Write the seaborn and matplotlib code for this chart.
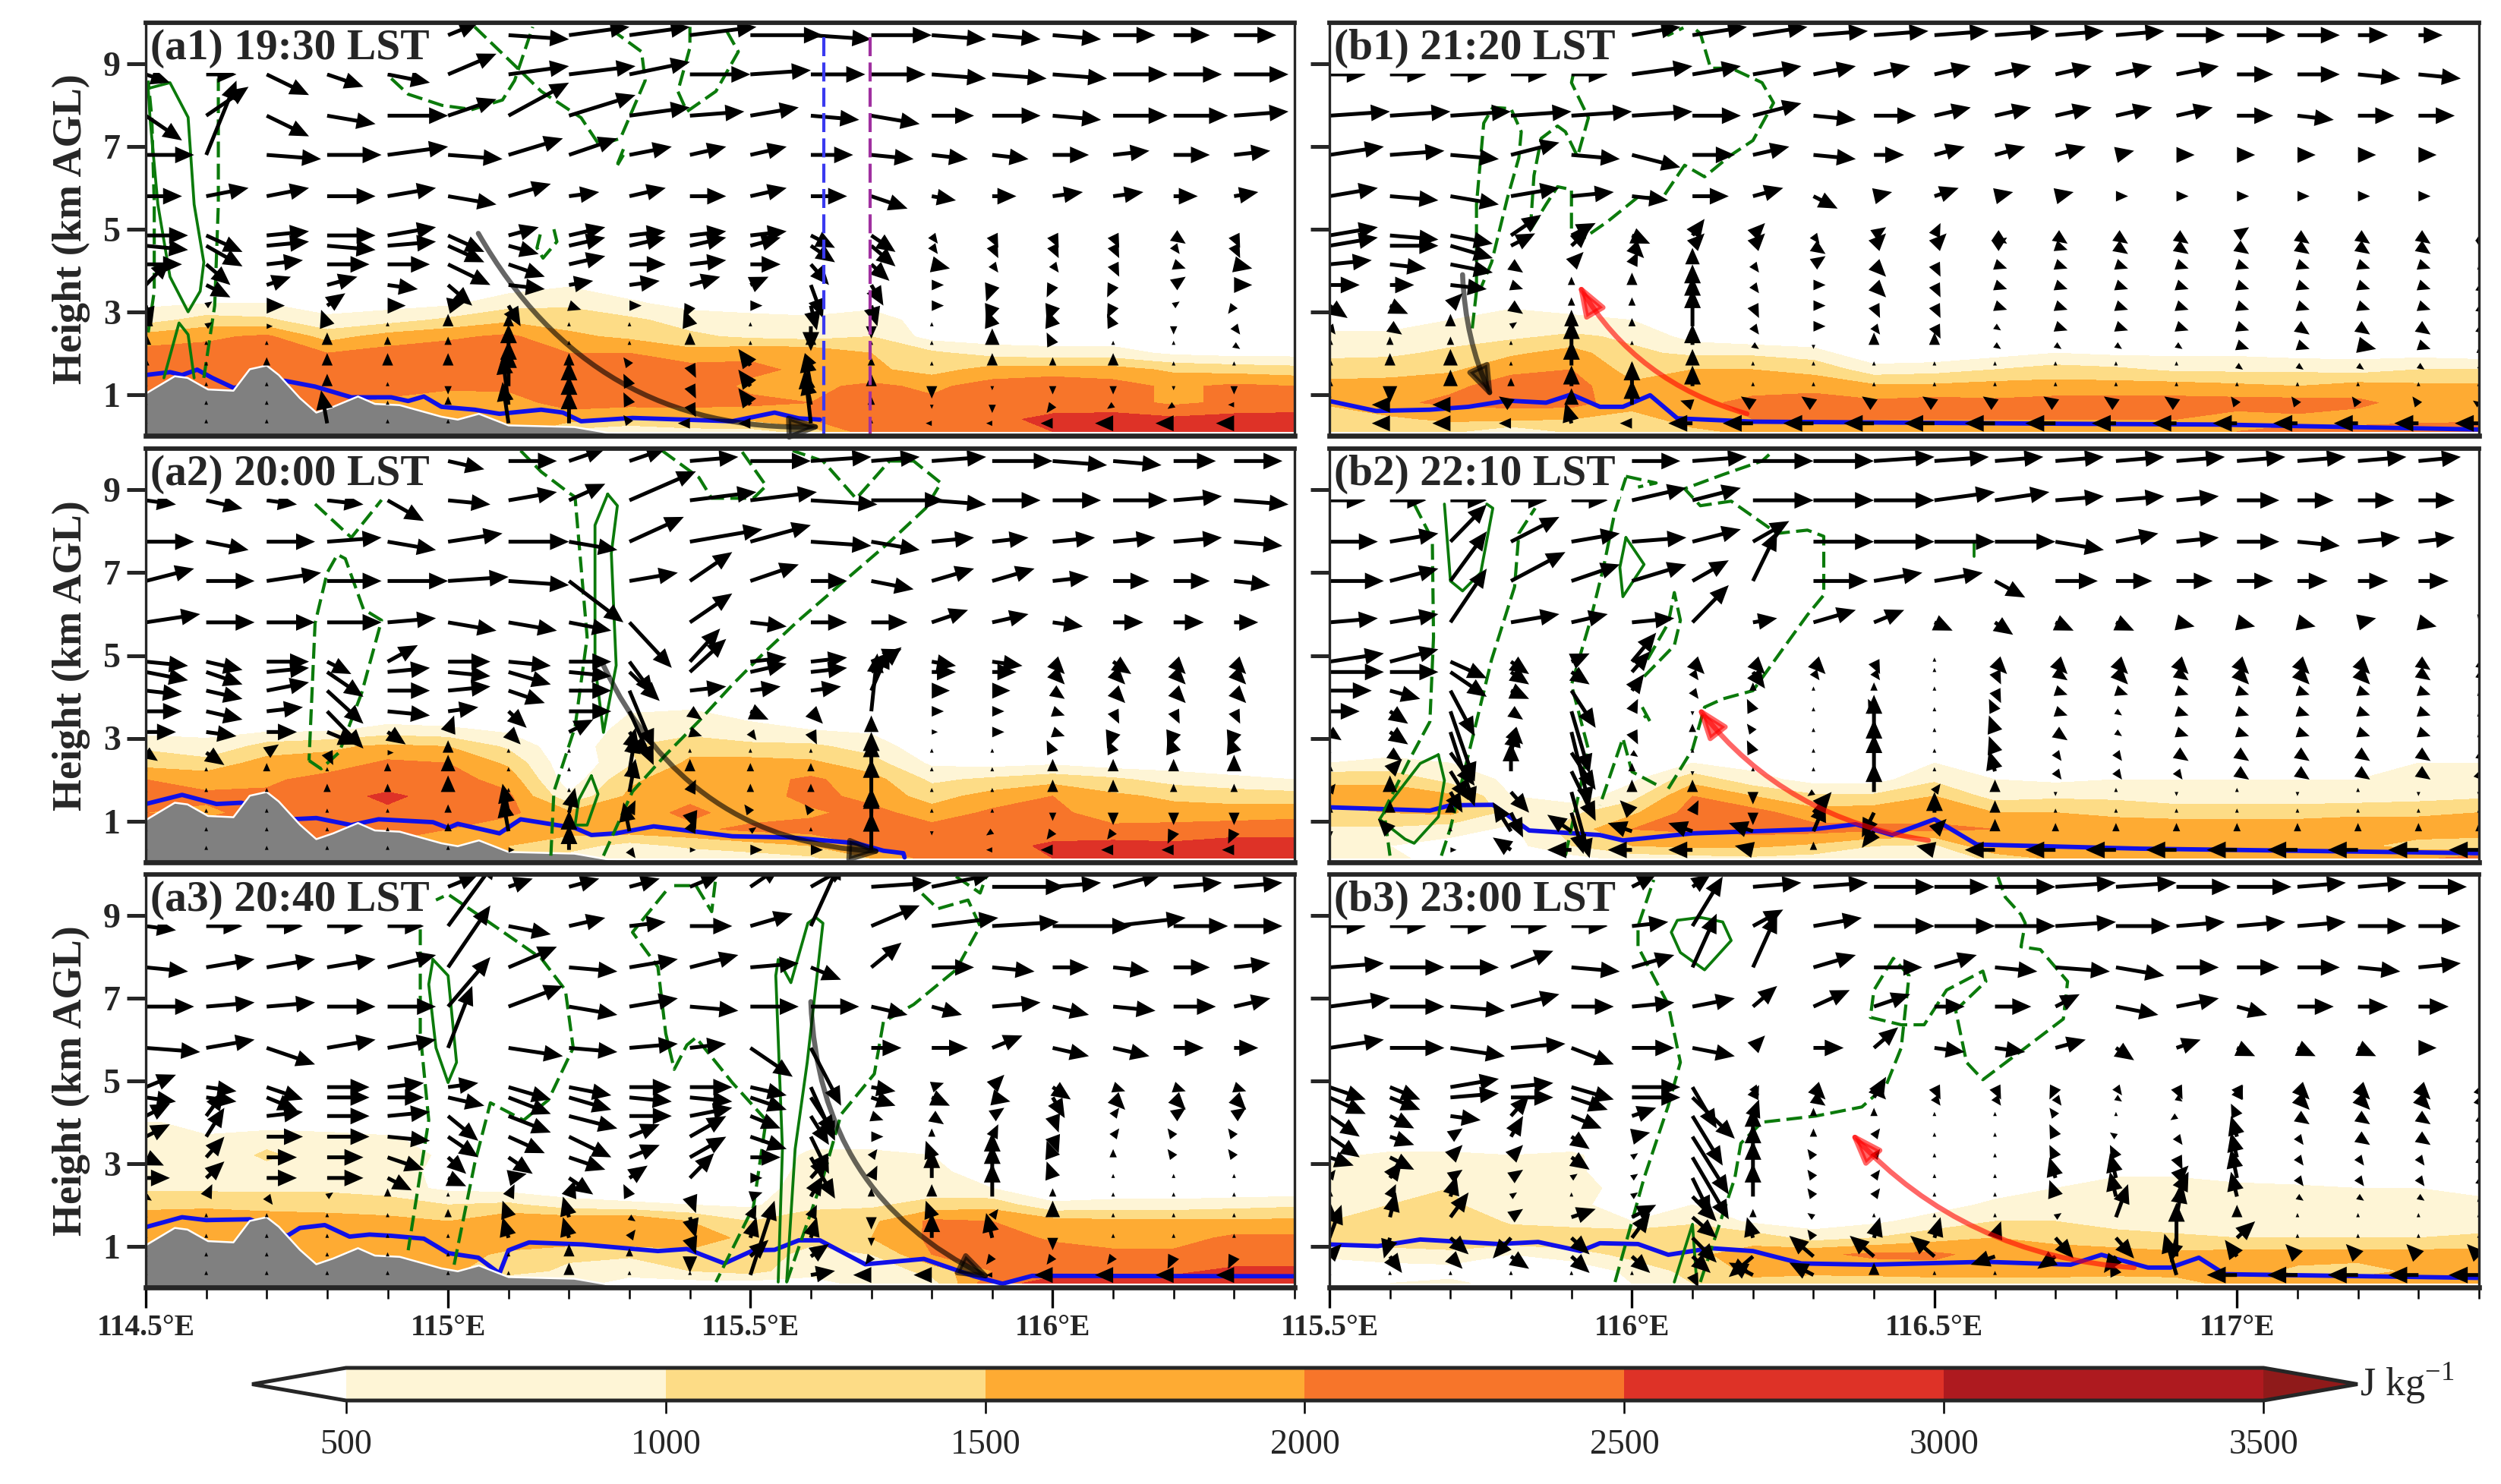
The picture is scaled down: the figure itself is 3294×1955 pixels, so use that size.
import numpy as np
import matplotlib
matplotlib.use("Agg")
import matplotlib.pyplot as plt
from matplotlib.colors import BoundaryNorm, ListedColormap
import seaborn as sns

sns.set_theme(style="ticks")
plt.rcParams['font.family'] = ['Liberation Serif', 'DejaVu Serif']
plt.rcParams['mathtext.fontset'] = 'custom'
plt.rcParams['mathtext.rm'] = 'Liberation Serif'

# --- shared grids ---
cape_hgt = [0.1, 0.4, 0.8, 1.2, 1.6, 2.0, 2.4, 2.8, 3.2, 3.6, 4.0]
wind_hgt = [9.7, 8.75, 7.75, 6.8, 5.8, 4.85, 4.6, 4.15, 3.65, 3.15, 2.65, 2.2, 1.7, 1.2, 0.75, 0.3]
cape_levels = [500, 1000, 1500, 2000, 2500, 3000, 3500]
cape_colors = ['#FEF5D6', '#FDDC86', '#FEAB33', '#F7752A', '#DE3227', '#AE1A1F']

terrain_lon = [114.5, 114.548, 114.569, 114.603, 114.645, 114.672, 114.70, 114.72, 114.755, 114.782, 114.81,
               114.851, 114.879, 114.92, 114.989, 115.016, 115.051, 115.1, 115.209, 115.264, 115.36]
terrain_hgt = [1.02, 1.44, 1.40, 1.12, 1.09, 1.61, 1.70, 1.47, 0.91, 0.56, 0.70,
               0.95, 0.77, 0.74, 0.46, 0.39, 0.53, 0.25, 0.21, 0.07, 0.01]

# --- CAPE, in 100 J/kg, rows follow cape_hgt ---
a1_cape = [
    [18, 18, 18, 18, 18, 18, 18, 8, 6, 8, 8, 12, 24, 23, 24, 25, 28, 27, 27, 27],
    [19, 19, 19, 19, 19, 19, 17, 17, 14, 15, 16, 20, 24, 23, 24, 26, 27, 26, 27, 27],
    [21, 21, 21, 21, 19, 17, 18, 22, 22, 22, 21, 20, 22, 21, 22, 23, 22, 19, 21, 22],
    [21, 21, 21, 21, 22, 21, 21, 22, 22, 23, 19, 19, 21, 19, 22, 24, 22, 19, 21, 20],
    [21, 21, 21, 21, 22, 22, 22, 23, 22, 22, 21, 19, 16, 13, 17, 17, 17, 14, 13, 12],
    [22, 22, 23, 20, 22, 23, 22, 20, 20, 17, 19, 19, 15, 11, 8, 7, 7, 4, 3, 3],
    [17, 19, 21, 13, 17, 19, 21, 16, 14, 11, 9, 8, 10, 3, 2, 2, 2, 2, 2, 2],
    [8, 12, 11, 6, 8, 11, 14, 13, 11, 8, 7, 6, 8, 2, 1, 1, 1, 1, 1, 1],
    [4, 5, 5, 3, 3, 4, 8, 9, 6, 3, 2, 2, 3, 1, 1, 1, 1, 1, 1, 1],
    [1, 1, 1, 1, 1, 1, 3, 5, 2, 1, 1, 1, 1, 1, 1, 1, 1, 1, 1, 1],
    [1, 1, 1, 1, 1, 1, 1, 1, 1, 1, 1, 1, 1, 1, 1, 1, 1, 1, 1, 1],
]
a2_cape = [
    [16, 16, 16, 16, 16, 16, 16, 8, 6, 6, 7, 9, 15, 22, 22, 25, 27, 27, 27, 27],
    [19, 19, 19, 19, 19, 19, 15, 12, 8, 11, 13, 15, 20, 22, 23, 26, 27, 26, 27, 27],
    [22, 22, 22, 22, 22, 20, 17, 17, 18, 19, 21, 22, 23, 22, 22, 22, 21, 22, 23, 23],
    [20, 19, 22, 22, 24, 23, 21, 16, 18, 21, 18, 19, 22, 17, 21, 21, 18, 17, 17, 18],
    [21, 21, 21, 23, 26, 23, 21, 6, 16, 19, 17, 22, 18, 13, 17, 20, 16, 14, 13, 12],
    [20, 18, 19, 22, 22, 22, 18, 2, 14, 18, 18, 21, 17, 9, 11, 13, 11, 8, 6, 5],
    [13, 12, 17, 17, 21, 20, 14, 1, 9, 16, 17, 16, 12, 4, 3, 4, 2, 2, 2, 2],
    [9, 6, 12, 14, 16, 15, 9, 1, 10, 13, 11, 11, 8, 1, 1, 1, 1, 1, 1, 1],
    [3, 4, 4, 4, 7, 6, 4, 1, 7, 8, 7, 5, 4, 1, 1, 1, 1, 1, 1, 1],
    [1, 1, 1, 1, 1, 1, 1, 1, 5, 6, 3, 1, 1, 1, 1, 1, 1, 1, 1, 1],
    [1, 1, 1, 1, 1, 1, 1, 1, 1, 1, 1, 1, 1, 1, 1, 1, 1, 1, 1, 1],
]
a3_cape = [
    [10, 10, 10, 10, 10, 10, 6, 6, 4, 3, 3, 4, 6, 8, 24, 26, 27, 27, 27, 27],
    [16, 16, 16, 16, 16, 16, 12, 9, 6, 10, 12, 6, 6, 12, 20, 24, 22, 24, 26, 26],
    [17, 17, 17, 17, 17, 17, 14, 11, 11, 14, 15, 7, 10, 20, 25, 23, 21, 21, 22, 22],
    [18, 18, 18, 18, 18, 18, 18, 19, 19, 17, 14, 13, 15, 21, 23, 19, 18, 18, 21, 21],
    [17, 18, 18, 17, 16, 15, 19, 19, 20, 15, 10, 12, 14, 21, 20, 17, 16, 16, 16, 16],
    [14, 14, 13, 13, 13, 10, 11, 7, 6, 5, 4, 9, 9, 12, 13, 6, 7, 7, 8, 9],
    [9, 9, 9, 9, 7, 4, 3, 2, 1, 1, 2, 8, 7, 7, 5, 1, 1, 1, 1, 1],
    [7, 5, 8, 9, 9, 2, 1, 1, 1, 1, 1, 7, 6, 6, 3, 1, 1, 1, 1, 1],
    [7, 6, 11, 7, 10, 3, 1, 1, 1, 1, 1, 6, 7, 5, 1, 1, 1, 1, 1, 1],
    [8, 6, 8, 7, 6, 2, 1, 1, 1, 1, 1, 3, 1, 1, 1, 1, 1, 1, 1, 1],
    [6, 2, 2, 2, 1, 1, 1, 1, 1, 1, 1, 1, 1, 1, 1, 1, 1, 1, 1, 1],
]
b1_cape = [
    [11, 12, 11, 6, 11, 13, 14, 16, 17, 17, 17, 18, 17, 17, 19, 20, 21, 22, 22, 23],
    [11, 14, 16, 16, 15, 13, 17, 20, 21, 20, 20, 20, 20, 20, 20, 18, 19, 18, 19, 19],
    [16, 19, 21, 22, 22, 17, 18, 22, 24, 21, 22, 21, 22, 22, 22, 22, 22, 21, 18, 18],
    [17, 17, 19, 22, 22, 16, 17, 17, 17, 16, 16, 17, 17, 17, 17, 16, 15, 17, 16, 16],
    [12, 13, 14, 19, 20, 13, 15, 15, 14, 7, 8, 10, 12, 11, 9, 9, 9, 8, 10, 10],
    [9, 9, 11, 14, 17, 11, 9, 9, 7, 1, 1, 3, 5, 4, 4, 4, 3, 3, 3, 2],
    [6, 6, 8, 9, 11, 9, 3, 1, 1, 1, 1, 1, 1, 1, 1, 1, 1, 1, 1, 1],
    [3, 3, 5, 7, 6, 5, 3, 1, 1, 1, 1, 1, 1, 1, 1, 1, 1, 1, 1, 1],
    [1, 1, 3, 4, 3, 3, 2, 1, 1, 1, 1, 1, 1, 1, 1, 1, 1, 1, 1, 1],
    [1, 1, 1, 1, 1, 1, 1, 1, 1, 1, 1, 1, 1, 1, 1, 1, 1, 1, 1, 1],
    [1, 1, 1, 1, 1, 1, 1, 1, 1, 1, 1, 1, 1, 1, 1, 1, 1, 1, 1, 1],
]
b2_cape = [
    [6, 6, 3, 3, 3, 7, 8, 9, 8, 6, 5, 12, 16, 17, 17, 18, 18, 18, 19, 22],
    [5, 5, 3, 3, 10, 15, 16, 16, 14, 10, 9, 20, 20, 18, 17, 18, 18, 16, 13, 12],
    [9, 9, 7, 4, 12, 20, 21, 22, 22, 21, 21, 20, 20, 20, 18, 18, 18, 18, 18, 18],
    [14, 15, 16, 8, 9, 14, 22, 22, 17, 18, 18, 15, 15, 13, 13, 13, 13, 14, 14, 15],
    [17, 17, 16, 5, 2, 8, 20, 15, 11, 11, 15, 8, 9, 9, 7, 7, 7, 7, 8, 9],
    [14, 14, 8, 4, 1, 4, 13, 7, 3, 3, 9, 5, 4, 5, 5, 5, 5, 5, 6, 7],
    [5, 6, 5, 5, 1, 1, 5, 3, 1, 1, 5, 1, 1, 1, 1, 1, 1, 1, 5, 5],
    [5, 3, 1, 5, 1, 1, 1, 1, 1, 1, 1, 1, 1, 1, 1, 1, 1, 1, 1, 1],
    [5, 1, 1, 4, 1, 1, 1, 1, 1, 1, 1, 1, 1, 1, 1, 1, 1, 1, 1, 1],
    [1, 1, 1, 1, 1, 1, 1, 1, 1, 1, 1, 1, 1, 1, 1, 1, 1, 1, 1, 1],
    [1, 1, 1, 1, 1, 1, 1, 1, 1, 1, 1, 1, 1, 1, 1, 1, 1, 1, 1, 1],
]
b3_cape = [
    [5, 5, 6, 3, 3, 5, 10, 14, 11, 12, 12, 12, 12, 12, 14, 16, 17, 17, 17, 18],
    [2, 3, 3, 2, 2, 6, 12, 16, 17, 17, 18, 18, 18, 17, 16, 17, 14, 13, 16, 16],
    [6, 7, 8, 5, 7, 12, 14, 17, 19, 21, 21, 18, 18, 17, 16, 17, 17, 17, 17, 17],
    [13, 14, 15, 14, 15, 15, 14, 13, 8, 10, 13, 15, 13, 12, 11, 10, 10, 10, 10, 11],
    [10, 12, 15, 9, 7, 5, 9, 4, 2, 4, 7, 10, 10, 8, 7, 7, 7, 7, 7, 7],
    [9, 10, 11, 6, 6, 3, 5, 2, 1, 1, 3, 6, 9, 6, 6, 6, 6, 6, 6, 6],
    [7, 10, 10, 6, 6, 4, 1, 1, 1, 1, 1, 3, 5, 7, 7, 6, 6, 5, 5, 4],
    [6, 7, 7, 6, 6, 2, 1, 1, 1, 1, 1, 1, 3, 4, 4, 3, 1, 1, 1, 1],
    [4, 6, 6, 5, 6, 1, 1, 1, 1, 1, 1, 1, 1, 1, 1, 1, 1, 1, 1, 1],
    [1, 1, 1, 1, 1, 1, 1, 1, 1, 1, 1, 1, 1, 1, 1, 1, 1, 1, 1, 1],
    [1, 1, 1, 1, 1, 1, 1, 1, 1, 1, 1, 1, 1, 1, 1, 1, 1, 1, 1, 1],
]

# --- wind: u in 0.01 deg of arrow run, w in 0.1 km of arrow rise, rows follow wind_hgt ---
a1_u = [
    [6, 6, 6, 6, 6, 5, 10, 10, 10, 11, 12, 10, 10, 9, 8, 8, 7, 6, 7],
    [4, 5, 7, 6, 7, 8, 10, 11, 10, 10, 10, 9, 9, 9, 9, 9, 9, 8, 9],
    [6, 7, 7, 8, 10, 8, 10, 11, 10, 9, 8, 8, 8, 7, 8, 8, 9, 9, 9],
    [8, 5, 9, 9, 10, 9, 9, 8, 7, 6, 6, 7, 7, 6, 6, 6, 6, 6, 6],
    [6, 7, 7, 8, 8, 8, 7, 5, 6, 6, 6, 6, 6, 4, 4, 5, 5, 4, 4],
    [7, 6, 7, 8, 8, 6, 5, 6, 6, 6, 6, 4, 4, 1, 1, 1, 1, 2, 1],
    [7, 6, 7, 8, 8, 6, 5, 6, 6, 6, 5, 4, 4, 1, 1, 1, 1, 1, 1],
    [6, 4, 6, 7, 7, 7, 6, 6, 6, 6, 5, 3, 3, 3, 1, 1, 1, 2, 3],
    [4, 4, 4, 5, 5, 4, 6, 4, 5, 5, 3, 2, 2, 2, -1, -1, -1, 2, 3],
    [1, 1, 3, 3, 3, 3, 2, 2, 2, -1, 2, 1, 1, 2, -1, -1, -1, 1, -1],
    [0, 1, 1, -1, 0, 0, 0, 0, 0, -1, 0, 0, 0, 0, -1, -1, -1, 0, 1],
    [0, 0, 0, 0, 0, 0, 0, 0, 0, 0, 0, 0, 0, 0, 0, -1, 0, 0, 1],
    [0, 0, 0, 0, 0, 0, 0, 0, -1, 1, -2, -1, 0, 0, 0, 0, 0, 0, 0],
    [0, 0, 0, 0, 0, 0, 0, 0, -1, 1, -2, -1, 0, 0, 0, 0, 0, 0, 0],
    [0, 0, 0, 0, 0, 0, -1, 0, -1, 1, -2, -1, 0, 0, 0, -1, -1, -1, -1],
    [0, 0, 0, -1, 0, 0, -1, 0, -1, -2, -2, -1, 0, -1, -1, -2, -3, -3, -3],
]
a1_w = [
    [0, 0, 0, 0, 0, 3, -1, 2, 2, 2, 0, -1, 0, -1, -1, -1, 0, 0, 0],
    [-2, 0, -5, -3, -2, 5, 2, 2, 3, 0, 1, 0, 0, -1, -1, -1, 0, 0, 0],
    [-6, 7, -5, -2, 0, 4, 8, 5, 2, 1, 2, -1, -2, 0, 0, -1, 0, 0, 1],
    [0, 18, -1, 0, 2, -1, 4, 4, 2, 2, 2, 0, -1, -1, -1, 0, 1, 0, 1],
    [0, 2, 2, 0, 2, -2, 3, 1, 2, 0, 2, 0, -3, -1, 0, 1, 1, 0, 1],
    [0, -4, 1, 0, 2, -4, 2, 2, 1, 1, 1, -3, -4, -2, -3, -3, -3, -2, -3],
    [-1, -5, 1, -1, 1, -4, -2, 2, 2, 2, 2, -4, -5, -2, -3, -3, -3, -2, -3],
    [0, -5, 1, 0, 0, -5, -3, 2, 0, 1, 0, -5, -4, -1, -2, -2, -3, -1, -1],
    [6, -3, 2, 2, -1, -5, -1, 1, 1, 2, 2, -8, -5, 0, -4, -3, -3, 2, 0],
    [-5, 1, 0, 3, 0, 1, -5, -1, 0, -3, 0, -6, -5, 0, -4, -4, -3, 1, -2],
    [4, 1, 0, 4, 1, 3, 3, 1, 1, 4, 1, -6, -3, 1, 4, 4, 3, -2, -2],
    [3, 1, 1, 3, 2, 2, 5, 1, 1, 3, 1, 3, 1, 1, 4, 3, 1, 1, -1],
    [2, 1, 2, 3, 3, 3, 6, 3, 2, -3, 4, 3, 2, 1, 3, 2, 3, 1, 1],
    [1, 1, 1, 3, 1, -2, 9, 6, 3, -3, 4, 8, 3, -3, -1, -2, -2, -1, -2],
    [1, 1, 1, 1, 1, 2, 12, 7, 3, -3, 4, 7, 2, -1, -2, -2, -1, -1, 0],
    [1, 1, 1, 8, 1, 1, 10, 8, 2, 0, 0, 13, 1, 0, 0, 0, 0, 0, 0],
]
a2_u = [
    [6, 6, 6, 6, 6, 6, 8, 6, 6, 8, 10, 10, 8, 9, 10, 9, 8, 7, 8],
    [5, 6, 5, 6, 6, 7, 8, 6, 11, 11, 11, 11, 12, 9, 8, 8, 9, 8, 9],
    [8, 7, 8, 9, 8, 9, 10, 8, 9, 12, 10, 10, 8, 7, 6, 7, 7, 8, 8],
    [8, 8, 9, 9, 10, 10, 10, 9, 8, 7, 8, 6, 7, 7, 7, 6, 6, 6, 6],
    [9, 8, 8, 9, 8, 8, 8, 7, 7, 7, 6, 6, 6, 6, 6, 5, 5, 5, 4],
    [7, 6, 7, 4, 5, 7, 7, 7, 4, 5, 6, 6, 5, 4, 5, 2, 3, 2, 2],
    [7, 6, 7, 6, 7, 7, 7, 7, 5, 6, 6, 6, 5, 4, 4, 2, 2, 2, 2],
    [6, 6, 7, 6, 7, 7, 6, 7, 4, 6, 5, 5, 3, 3, 3, 2, 2, 2, 2],
    [6, 6, 6, 6, 7, 5, 3, 7, 4, 2, 3, 2, 1, 2, 2, 2, 1, 1, 1],
    [5, 5, 5, 5, 3, 1, 2, 4, 3, 2, 1, 1, 0, 1, 2, 2, -1, -1, -1],
    [2, 3, 2, 1, 1, 0, 0, 0, 1, 0, 0, 0, 0, 0, 0, -1, -1, -1, -1],
    [0, 0, 0, 0, 0, 0, 0, 0, 1, 0, 0, 0, 0, 0, 0, 0, 0, 0, 0],
    [0, 0, 0, 0, 0, 0, 0, 0, 1, 1, 0, 0, 0, 0, 0, 0, 0, 0, 0],
    [0, 0, 0, 0, 0, 0, -1, 1, 1, 1, -1, -1, 0, 0, 0, 0, 0, 0, 0],
    [0, 0, 0, 0, 0, 0, -1, 0, -1, 1, 1, 0, 0, 0, -1, -1, -1, -1, -1],
    [0, 0, 0, 0, 0, 0, 1, 0, 1, 1, 2, 2, 0, 0, -1, -2, -2, -2, -2],
]
a2_w = [
    [0, 0, 0, 0, 0, -2, 0, 3, 3, 1, 0, 1, 1, 1, 0, -1, -1, 0, 0],
    [-1, -2, -1, -1, -5, -1, 2, 4, 7, 2, 2, -1, 0, -1, 0, 0, 0, 1, -1],
    [0, -2, 0, 1, -2, 2, 0, -2, 6, 3, 4, -1, -2, 1, 1, 1, 1, 1, -1],
    [3, 0, 2, 0, 0, 1, -1, -10, 2, 7, 4, 0, -2, 3, 3, 1, 0, 0, -1],
    [2, 0, 0, 0, 1, -2, -2, -2, -11, 7, -1, 0, 0, 3, 2, -1, 0, 0, 0],
    [-1, -2, 0, -3, 4, 0, -1, 0, -8, 8, 1, 1, 3, -1, -1, -3, -3, -3, -3],
    [-2, -3, 1, -6, 1, -1, -3, -1, -7, 8, 2, 1, 6, 0, 0, -3, -3, -3, -3],
    [-1, -2, 2, -8, 0, 1, -3, 0, -14, 1, 1, 1, 10, 0, 0, -2, -3, -3, -3],
    [0, -2, 1, -9, -1, 1, -4, 0, -13, -2, -2, -3, 14, 0, 0, -1, -3, -3, -3],
    [0, -1, 0, -3, -3, 4, -3, 3, -6, -1, -2, -3, 4, 0, 0, -1, -4, -4, -4],
    [-2, -3, 2, -3, 0, 3, 1, 1, 6, 1, 1, 1, 5, 1, 1, 3, 3, 4, 4],
    [1, 1, 2, 1, 2, 4, 1, 1, 9, 3, 2, 2, 8, 1, 1, 3, 3, 3, 4],
    [1, 1, 1, 2, 2, 4, 1, 1, 8, 3, 2, 2, 8, 1, 1, 3, 3, 2, 2],
    [1, 1, 1, 1, 1, 2, 7, 6, 3, -4, 2, 2, 6, 1, 1, -2, -3, -3, -3],
    [1, 1, 1, 1, 1, 2, 8, 5, 7, 3, 1, 1, 10, -1, -1, -2, -2, -3, -3],
    [1, 1, 1, 1, 1, 1, 0, 6, -2, 0, 0, 0, 9, 0, 0, 0, 0, 0, 0],
]
a3_u = [
    [6, 6, 6, 6, 6, 5, 4, 5, 5, 5, 5, 6, 10, 10, 12, 8, 8, 8, 8],
    [5, 6, 6, 6, 6, 8, 7, 6, 6, 7, 7, 5, 8, 11, 11, 13, 12, 9, 8],
    [7, 8, 8, 8, 8, 7, 8, 8, 8, 8, 8, 5, 5, 7, 7, 6, 6, 6, 6],
    [8, 8, 8, 8, 8, 7, 9, 8, 8, 8, 8, 8, 6, 5, 8, 6, 7, 7, 6],
    [9, 8, 8, 8, 8, 4, 9, 8, 8, 6, 7, 5, 5, 6, 5, 6, 6, 5, 4],
    [5, 5, 6, 7, 6, 5, 7, 7, 7, 7, 6, 4, 4, 2, 2, 3, 2, 2, 2],
    [5, 5, 5, 7, 6, 6, 7, 7, 7, 7, 6, 4, 4, 3, 3, 2, 2, 2, 2],
    [4, 3, 6, 7, 7, 5, 7, 8, 7, 7, 5, 3, 2, 2, 2, 1, 1, 2, 2],
    [4, 3, 6, 7, 7, 5, 6, 7, 5, 6, 6, 3, 2, 0, 1, 1, 1, -1, -1],
    [3, 3, 5, 6, 6, 3, 4, 6, 5, 6, 5, 4, 1, -1, 0, -1, 0, -1, -1],
    [4, 3, 5, 6, 4, 3, 3, 4, 3, 4, 2, 3, 1, 0, 0, -1, 0, 0, 0],
    [1, 1, 1, 1, 0, 0, 1, 1, -1, 1, 2, 2, 0, 0, 0, 0, 0, 0, 0],
    [0, 0, 0, 0, 0, 0, -1, -1, 1, 1, 1, 1, 0, -1, 1, 0, 0, 0, 0],
    [0, 0, 0, 0, 0, 0, -1, -1, 1, 1, 1, 1, 0, 0, -1, 0, 0, 0, 0],
    [0, 0, 0, 0, 0, 0, 0, 0, 0, 0, 3, 3, -1, 0, -1, -1, -1, -1, -1],
    [0, 0, 0, 0, 0, 0, 0, 0, 0, 0, 4, 4, -3, -3, -1, -3, -3, -3, -3],
]
a3_w = [
    [0, 0, 0, 0, 0, 3, 2, 2, 2, 3, 5, 5, 1, 3, 0, 1, 3, 1, 1],
    [-1, 0, 0, 0, 0, 16, -2, 2, 1, 0, 3, 16, 5, 2, 1, 0, 2, 0, 0],
    [-1, 2, 2, 2, 3, 15, 5, -1, 2, 3, 1, -3, 6, 0, -1, 0, -1, 0, 1],
    [0, 1, 1, 0, 0, 12, 5, -2, 2, -1, 0, 0, -2, -2, 1, -2, -1, 0, 2],
    [-1, 2, -4, 2, 2, 15, -2, -1, 1, 1, -7, -14, 0, 0, 3, -2, -2, 0, 0],
    [3, -1, -3, 0, 1, 1, -3, -2, 0, 0, -2, -13, -1, 1, 3, -3, -1, -1, -1],
    [-1, -1, -3, 0, 0, -2, -4, -3, -1, -1, -3, -9, -2, -2, -1, -5, -3, -3, -3],
    [3, 6, 1, 0, 1, -6, -4, -3, 0, 2, -3, -7, -1, -2, 2, -4, 2, 2, 2],
    [3, 7, 0, 0, -1, -5, -4, -5, 3, 5, -3, -9, 0, 2, 3, -4, 2, 2, 2],
    [-2, 5, 0, 0, -3, -4, -4, -3, 3, 5, 0, -10, 2, 4, 6, 4, 2, 2, 2],
    [0, 4, 0, 0, -3, -2, 1, -4, 3, 6, 0, 5, 3, 7, 8, 4, 1, 1, 1],
    [-1, 3, -2, 1, 2, 1, 3, 4, 3, -4, 1, 5, 2, 3, 8, 2, 1, 1, 1],
    [1, 1, 1, 1, 1, 2, 4, 5, -1, -5, 3, 3, -3, 4, 2, 4, 1, 1, 1],
    [1, 1, 1, 1, 1, 1, 5, 5, 2, -4, 5, 5, -2, 6, 6, -3, 1, 1, 1],
    [1, 1, 1, 1, 1, 1, 1, 3, 2, -4, 4, 3, -2, 0, -2, -2, -2, -3, -3],
    [1, 1, 1, 1, 1, 1, 1, 3, 1, 1, 18, 1, 0, 0, 0, 0, 0, 0, 0],
]
b1_u = [
    [6, 6, 6, 6, 6, 8, 9, 9, 9, 9, 9, 9, 8, 8, 8, 8, 7, 5, 4, 3],
    [6, 6, 6, 6, 6, 10, 8, 8, 7, 6, 6, 6, 6, 6, 7, 6, 7, 7, 7, 3],
    [10, 10, 10, 10, 10, 10, 8, 8, 7, 7, 6, 6, 6, 6, 6, 6, 6, 6, 6, 3],
    [9, 9, 8, 8, 8, 8, 7, 6, 7, 5, 5, 5, 5, 3, 3, 3, 3, 3, 3, 3],
    [8, 8, 8, 8, 7, 6, 6, 5, 4, 3, 4, 3, 3, 2, 2, 2, 2, 2, 2, 2],
    [8, 8, 7, 5, 4, 3, 2, 2, 1, 2, 1, 2, 2, 2, 2, 2, 2, 2, 2, 2],
    [8, 8, 7, 4, 3, 2, 2, 2, 2, 2, 2, 2, 2, 2, 2, 2, 2, 2, 2, 2],
    [7, 6, 7, 2, 2, 1, 0, 1, 2, 2, 1, 2, 2, 2, 2, 2, 2, 2, 2, 2],
    [5, 4, 6, 2, 0, 0, 0, 1, 2, 2, 1, 2, 2, 2, 2, 2, 2, 2, 2, 2],
    [3, 3, 2, 2, 0, 0, 0, 1, 2, 1, 1, 2, 2, 2, 2, 2, 2, 2, 2, 2],
    [1, 2, 0, 1, 0, 0, 0, 1, 2, 1, 1, 1, 2, 2, 2, 2, 2, 2, 2, 2],
    [0, 0, 0, 0, 0, 0, 0, 1, 0, 0, 0, 1, 1, 1, 1, 2, 2, 3, 2, 3],
    [0, 0, 0, 0, 0, 0, 0, 0, 0, 0, 0, 0, 0, 0, 0, 1, 1, 1, 1, 1],
    [0, 0, 0, 0, 0, 0, 0, 0, 0, 0, 0, 0, 0, 0, 0, 0, 0, 0, 0, 0],
    [-3, -3, -3, -2, 0, 0, -2, -2, -2, -2, -2, -2, -2, -2, -2, -1, -1, -1, -1, -1],
    [-3, -3, -3, -2, -1, -2, -4, -5, -5, -5, -5, -5, -5, -4, -4, -4, -4, -4, -4, -4],
]
b1_w = [
    [0, 0, 0, 0, 0, 2, 2, 2, 1, 1, 1, 1, 1, 1, 0, 0, 0, 0, 0, 0],
    [0, 0, 0, 0, 0, 2, 2, 2, 2, 2, 2, 2, 2, 2, 2, 0, 0, -1, -1, 0],
    [1, 1, 1, 1, 1, 1, 0, 3, -1, 0, 2, 2, 2, 2, 2, 0, -1, 0, 0, 0],
    [2, 1, -1, 3, -1, -3, 0, 2, -1, 0, 2, 2, 2, 1, 0, 0, 0, 0, 0, 0],
    [2, -1, -2, 2, 1, -1, 0, 2, -3, 1, 2, 1, 1, 0, 0, 0, 0, 0, 0, 0],
    [2, -1, -2, 5, 3, -2, 4, 3, -2, 2, 3, -2, -2, -2, -2, 2, -2, -2, -2, -2],
    [2, 0, -3, 3, 4, -3, 3, 3, -2, 3, 3, 2, -1, -2, -2, -2, -2, -2, -2, 2],
    [1, -1, -2, -2, 3, 3, 4, -2, 2, -3, -3, -1, -1, -1, -1, -1, -1, -1, -1, -1],
    [0, 0, -1, -1, 2, 3, 5, -2, 0, -3, -3, -1, -1, -1, -1, -1, -1, -1, -1, -2],
    [-3, -2, 3, -2, 2, 2, 7, -3, 0, -3, -3, -1, -1, -1, -1, -1, -1, -1, -1, -2],
    [-2, -2, 3, 1, 4, 2, 9, -2, 0, -2, -3, -1, -1, -1, -1, -1, -2, -2, -2, -2],
    [2, 2, 2, 1, 6, 1, 5, -1, -1, 3, 3, -1, -1, -1, -1, -1, -1, -1, -1, -2],
    [2, 3, 4, 1, 6, 1, 4, 1, 1, 1, 1, 1, 1, 1, 1, -1, -1, -1, -1, -1],
    [2, -4, 4, 2, 5, 6, 5, 1, 1, 1, 1, 1, 1, 1, 1, 1, 1, 1, 1, 1],
    [1, 0, 0, 2, 4, 6, 1, 2, 2, 2, 2, 2, 2, 2, 2, 2, 2, 2, 2, 1],
    [0, 0, 0, 0, 5, 0, 0, 0, 0, 0, 0, 0, 0, 0, 0, 0, 0, 0, 0, 0],
]
b2_u = [
    [6, 6, 6, 6, 6, 8, 9, 10, 10, 10, 9, 8, 8, 8, 8, 8, 8, 8, 7, 3],
    [6, 6, 6, 6, 6, 9, 8, 10, 10, 10, 10, 9, 8, 8, 7, 7, 6, 6, 6, 3],
    [8, 8, 6, 8, 8, 9, 8, 6, 10, 10, 10, 10, 8, 7, 7, 7, 7, 7, 6, 3],
    [9, 8, 6, 9, 8, 9, 6, 4, 9, 8, 8, 5, 7, 6, 6, 6, 5, 5, 5, 3],
    [8, 8, 6, 8, 6, 7, 6, 4, 7, 5, 3, 3, 3, 3, 3, 3, 3, 3, 3, 3],
    [9, 8, 6, 3, 3, 4, 2, 2, 2, 1, 0, 2, 2, 2, 2, 2, 2, 2, 2, 2],
    [9, 8, 6, 3, 3, 3, 1, 2, 1, 1, 0, 1, 2, 2, 2, 2, 2, 2, 2, 2],
    [7, 5, 4, 3, 4, 2, 1, 0, 0, 0, 0, 1, 2, 2, 2, 2, 2, 2, 2, 2],
    [5, 3, 4, 2, 3, 1, 0, -1, 0, -1, 0, -1, 2, 1, 2, 2, 2, 2, 2, 2],
    [2, 3, 4, 2, 3, 1, 0, -1, 0, 0, 0, -1, 2, 1, 2, 2, 2, 2, 2, 2],
    [0, 2, 4, 1, 4, 1, 0, -1, 0, 0, 0, -1, 1, 1, 2, 2, 2, 2, 2, 2],
    [0, 2, 3, 0, 4, 0, 0, 0, 0, 0, 0, -1, 1, 1, 1, 2, 2, 2, 2, 2],
    [1, 0, 2, 3, 3, 0, 0, 0, -1, 0, 1, 0, 0, 0, 0, 0, 0, 0, 0, 0],
    [0, 0, 0, 2, 2, -2, 1, 0, 3, -2, 0, 0, 0, 0, 0, 0, 0, 0, 0, 0],
    [0, -2, 0, -3, -4, -4, -4, -4, 2, -2, 2, 0, 0, 0, 0, 0, 0, 0, 0, 0],
    [0, 0, 1, -3, -4, -4, -4, -3, 0, 0, -3, -5, -5, -5, -5, -5, -5, -5, -5, -5],
]
b2_w = [
    [0, 0, 0, 0, 0, 0, 1, 0, 0, 1, 1, 1, 1, 1, 1, 1, 1, 1, 1, 0],
    [0, 0, 0, 0, 0, 3, 3, 0, 0, 0, 2, 2, 1, 1, 1, 0, 0, 0, 0, 0],
    [0, 2, 9, 6, 2, 1, 3, 5, 0, 0, 0, 0, -2, 2, 1, 0, -1, 1, 1, 0],
    [0, 3, 12, 7, 4, 4, 5, 12, 0, 2, 2, -4, 0, 0, 0, 0, 0, 0, 0, 0],
    [1, 2, 13, 2, 2, 1, 9, 1, 3, 3, -2, -3, -2, -2, -1, -1, -1, 1, -1, 1],
    [2, 3, -4, -3, 2, 7, -3, -3, -3, -3, 1, -3, -3, -3, -3, -3, -3, -3, -2, -2],
    [0, 0, -6, -3, -3, 5, -2, -4, -2, -2, 1, -3, -2, -3, -2, -3, -3, -3, -2, -2],
    [0, -2, -11, -2, -9, 4, -2, 2, 1, 2, 1, -3, -1, -1, -1, -1, -1, -1, -1, -1],
    [0, -3, -17, -2, -15, 3, -1, 3, 1, 3, 1, 3, -1, -1, -1, -1, -1, -1, -1, -1],
    [-2, -3, -18, -3, -18, -3, 2, 2, 1, 9, 1, 4, -2, -1, -1, -1, -1, -1, -1, -1],
    [1, -2, -8, 6, -9, -1, 1, 3, 1, 8, 1, 4, -2, -2, -2, -2, -2, -2, -2, -2],
    [2, 3, -7, 7, -12, 2, -1, 1, 1, 9, 1, 5, -2, -2, -2, -2, -2, -2, -2, -3],
    [2, 4, -5, -5, -16, 3, 3, -3, -1, 7, 2, 3, -1, 1, -1, 1, -1, 1, -1, -1],
    [2, 3, 3, -6, -10, 3, 3, -3, 5, -6, 5, 3, 1, 1, 1, 1, 1, 1, 1, 1],
    [-2, 3, 1, 7, 4, 2, 2, 2, 7, -4, 3, 3, 2, 2, 2, 2, 2, 2, 2, 2],
    [0, 0, 0, 3, 0, 0, 0, 1, 2, 0, 1, 0, 0, 0, 0, 0, 0, 0, 0, 0],
]
b3_u = [
    [6, 6, 6, 6, 6, 4, 3, 8, 9, 10, 9, 10, 10, 10, 9, 9, 8, 8, 8, 3],
    [6, 6, 6, 6, 6, 6, 5, 5, 8, 10, 10, 10, 10, 9, 8, 8, 8, 8, 7, 3],
    [9, 9, 8, 7, 8, 7, 4, 4, 7, 8, 7, 7, 9, 8, 7, 7, 7, 7, 7, 3],
    [10, 9, 9, 8, 7, 7, 7, 4, 6, 6, 5, 6, 4, 7, 7, 5, 6, 5, 5, 3],
    [9, 9, 9, 9, 7, 7, 7, 2, 5, 4, 5, 5, 5, 3, 4, 3, 3, 3, 3, 3],
    [6, 5, 8, 7, 7, 8, 4, 1, 2, 2, 1, 1, -1, 1, 1, 1, 2, 2, 2, 2],
    [6, 5, 8, 7, 6, 8, 7, 1, 2, 2, 1, 1, 1, 1, 1, 1, 2, 2, 2, 2],
    [5, 4, 5, 3, 5, 4, 5, 1, 0, 0, 0, 0, -1, 0, -1, -1, 2, 2, 2, 2],
    [5, 4, 2, 2, 3, 3, 6, 0, 0, 1, 0, 0, -1, -1, 1, -1, 1, 2, 2, 2],
    [4, 4, 2, 2, 3, 1, 6, 0, -1, 1, 0, 0, -1, -1, 1, -1, 1, 1, 1, 2],
    [1, 2, 2, 2, 1, 1, 3, 0, -1, 1, 0, 0, -1, -1, 2, -1, 1, 1, 1, 2],
    [0, 1, 1, 1, 0, 1, 4, 0, -1, 1, 0, 0, -1, -1, 2, -1, 1, 1, 1, 2],
    [0, 1, 3, 2, 4, 4, 4, 0, -1, 0, 0, 0, 1, 2, 1, 0, 0, 0, 0, 0],
    [2, -1, 3, -3, 3, 3, 4, -1, -1, 1, 1, 1, 3, 3, -1, 3, 0, 0, 0, 0],
    [2, 2, 2, 3, 3, 3, 3, -4, -4, -4, -4, -4, -3, -2, 0, -2, -2, -2, -2, -2],
    [0, 0, 0, 0, 0, 0, 1, -4, -4, 0, 0, 0, 0, -1, -2, -5, -5, -5, -5, -5],
]
b3_w = [
    [0, 0, 0, 0, 0, 3, 3, 1, 1, 0, 0, 0, 1, 1, 0, 0, 1, 1, 0, 0],
    [0, 0, 0, 0, 0, 1, 12, 4, 2, 0, 0, 0, 1, 0, 1, 1, 1, 0, 0, 0],
    [1, 0, 0, 4, -1, 3, 13, 13, 3, 0, 3, -1, -1, -2, 0, 0, 0, -1, 1, 0],
    [2, 0, -1, 3, 0, 1, 2, 5, 4, 3, 0, 0, 3, -2, 2, -2, 0, 0, 0, 0],
    [2, 0, -2, 1, -4, 0, -2, 3, 0, 5, -1, -1, 2, -3, 2, -2, -2, -2, 0, 0],
    [-3, -3, 2, 1, -3, 0, -10, -2, -3, -3, -3, -3, -3, -2, -3, -3, -3, -3, -3, -3],
    [-4, -3, 1, 0, -3, 0, -10, 3, -2, 5, -2, -2, -2, -1, -1, 3, -3, -3, -3, -3],
    [-5, -3, -1, 5, -3, 2, -12, 4, 2, 2, 1, 1, 2, 1, -1, 3, -2, -2, -2, -2],
    [-5, -2, 2, 5, -3, 1, -14, 7, 2, 2, 1, 1, 3, 1, -2, 5, -2, -2, -2, -2],
    [-2, -3, 3, 3, -3, 1, -15, 8, 2, 2, 1, 1, 3, 3, -3, 6, -2, -2, -2, -2],
    [2, 4, 2, 2, 1, 1, -9, 9, 2, 2, 1, 1, 5, 6, 3, 7, -2, -2, -2, -2],
    [2, 3, 5, 1, 1, 1, -6, 8, 2, 2, 1, 1, 4, 6, 6, 6, -1, -1, -1, -1],
    [4, 6, 6, 2, 2, 3, -5, 2, 1, 1, 1, 1, 1, 8, 8, 3, 1, 1, 1, 1],
    [8, -5, -4, -5, -4, 6, -6, 5, 2, 5, 5, 4, -5, -5, -6, 4, 1, 1, 1, 1],
    [3, -4, -3, -3, -4, -4, -4, -5, 5, 5, 5, -2, -3, -4, 13, 4, 3, 3, 3, 3],
    [1, 1, 1, 1, 1, 1, -3, 3, 3, 3, 1, 1, 0, 3, 10, 0, 0, 0, 0, 0],
]

# --- blue line ---
a1_blue_lon = [114.5, 114.54, 114.56, 114.585, 114.61, 114.645, 114.73, 114.78, 114.84, 114.906, 114.934, 114.96,
               114.989, 115.044, 115.085, 115.154, 115.19, 115.22, 115.305, 115.39, 115.47, 115.54, 115.58, 115.615]
a1_blue_hgt = [1.47, 1.54, 1.47, 1.6, 1.4, 1.16, 1.33, 1.19, 0.93, 0.93, 0.84, 0.95,
               0.7, 0.63, 0.53, 0.63, 0.56, 0.35, 0.43, 0.39, 0.35, 0.56, 0.42, 0.39]
a2_blue_lon = [114.5, 114.56, 114.617, 114.658, 114.74, 114.782, 114.84, 114.885, 114.975, 115.0, 115.016, 115.085,
               115.12, 115.21, 115.237, 115.278, 115.34, 115.47, 115.567, 115.676, 115.72, 115.753, 115.755]
a2_blue_hgt = [1.41, 1.63, 1.41, 1.44, 1.04, 1.07, 0.9, 1.04, 0.97, 0.83, 0.93, 0.7,
               1.04, 0.83, 0.66, 0.7, 0.87, 0.63, 0.6, 0.46, 0.28, 0.22, 0.12]
a3_blue_lon = [114.5, 114.56, 114.6, 114.672, 114.734, 114.755, 114.796, 114.837, 114.87, 114.906, 114.96, 115.0,
               115.05, 115.085, 115.1, 115.134, 115.223, 115.347, 115.395, 115.457, 115.505, 115.54, 115.58, 115.615,
               115.69, 115.787, 115.87, 115.917, 115.966, 116.4]
a3_blue_hgt = [1.46, 1.7, 1.63, 1.65, 1.25, 1.44, 1.51, 1.23, 1.28, 1.25, 1.18, 0.83,
               0.72, 0.34, 0.9, 1.09, 1.04, 0.88, 0.93, 0.58, 0.9, 0.91, 1.14, 1.14,
               0.56, 0.69, 0.27, 0.09, 0.28, 0.27]
b1_blue_lon = [115.5, 115.577, 115.666, 115.73, 115.794, 115.858, 115.9, 115.947, 115.985, 116.03, 116.075, 116.2,
               116.713, 116.97, 117.4]
b1_blue_hgt = [0.84, 0.6, 0.63, 0.7, 0.85, 0.8, 1.0, 0.7, 0.7, 0.98, 0.42, 0.34, 0.29, 0.27, 0.15]
b2_blue_lon = [115.5, 115.666, 115.7, 115.77, 115.83, 115.947, 115.985, 116.1, 116.3, 116.37, 116.43, 116.5, 116.57,
               116.84, 117.4]
b2_blue_hgt = [1.33, 1.25, 1.38, 1.39, 0.77, 0.66, 0.53, 0.7, 0.8, 0.92, 0.66, 1.04, 0.43, 0.33, 0.22]
b3_blue_lon = [115.5, 115.58, 115.65, 115.78, 115.845, 115.915, 115.947, 116.01, 116.06, 116.13, 116.2, 116.28,
               116.394, 116.585, 116.725, 116.776, 116.853, 116.89, 116.937, 116.98, 117.4]
b3_blue_hgt = [1.04, 1.0, 1.16, 1.05, 1.1, 0.88, 1.07, 1.05, 0.79, 0.95, 0.88, 0.58,
               0.55, 0.62, 0.55, 0.79, 0.48, 0.48, 0.72, 0.32, 0.23]

# --- green contours, (lon, height) ---
a1_solid = [
    [(114.504, 8.41), (114.54, 8.55), (114.57, 7.71), (114.58, 5.6), (114.596, 4.2), (114.59, 3.5), (114.57, 3.0),
     (114.54, 3.85), (114.52, 5.6), (114.507, 7.7), (114.504, 8.41)],
    [(114.53, 1.4), (114.555, 2.73), (114.57, 2.45), (114.58, 1.4)],
]
a1_dash = [
    [(114.504, 2.5), (114.514, 3.5), (114.514, 5.6), (114.51, 7.7), (114.504, 8.6)],
    [(114.596, 1.4), (114.614, 3.15), (114.62, 5.6), (114.62, 8.65)],
    [(114.906, 8.65), (114.934, 8.27), (114.99, 8.0), (115.04, 7.9), (115.09, 8.13), (115.11, 8.6), (115.14, 9.9)],
    [(115.044, 9.9), (115.11, 8.97), (115.154, 8.34), (115.22, 7.7), (115.25, 7.04), (115.285, 7.2), (115.326, 8.6),
     (115.32, 9.3), (115.264, 9.9)],
    [(115.4, 9.9), (115.4, 9.4), (115.38, 8.34), (115.395, 7.85), (115.443, 8.34), (115.48, 9.3), (115.457, 9.9)],
    [(115.29, 6.94), (115.278, 6.5), (115.29, 6.8)],
    [(115.175, 5.0), (115.18, 4.7), (115.157, 4.3), (115.147, 4.55), (115.154, 4.97)],
]
a2_solid = [
    [(115.264, 8.9), (115.28, 8.62), (115.27, 7.47), (115.278, 4.76), (115.257, 3.14), (115.243, 4.76), (115.243, 8.15),
     (115.264, 8.9)],
    [(115.237, 2.09), (115.248, 1.65), (115.23, 0.9), (115.21, 0.9), (115.216, 1.51), (115.237, 2.09)],
]
a2_dash = [
    [(114.78, 8.66), (114.84, 7.85), (114.89, 8.76)],
    [(114.77, 2.46), (114.79, 2.26), (114.82, 2.66), (114.857, 4.09), (114.89, 5.85), (114.86, 6.12), (114.83, 7.34),
     (114.817, 7.44), (114.8, 7.0), (114.78, 5.78), (114.77, 2.46)],
    [(115.17, 0.16), (115.175, 1.71), (115.21, 3.27), (115.23, 5.44), (115.21, 8.83), (115.2, 8.93), (115.154, 9.44),
     (115.12, 9.95)],
    [(115.257, 0.16), (115.305, 1.71), (115.36, 2.6), (115.414, 3.4), (115.47, 4.29), (115.525, 5.1), (115.58, 5.85),
     (115.66, 6.86), (115.73, 7.74), (115.79, 8.56), (115.815, 9.17), (115.77, 9.7), (115.73, 9.7), (115.675, 8.79),
     (115.62, 9.7), (115.57, 9.95)],
    [(115.354, 9.95), (115.415, 9.3), (115.436, 8.8), (115.505, 8.8), (115.526, 9.1), (115.485, 9.95)],
]
a3_solid = [
    [(114.975, 7.94), (115.0, 7.55), (115.014, 5.45), (115.0, 4.96), (114.98, 5.8), (114.968, 7.34), (114.975, 7.94)],
    [(115.546, 0.13), (115.553, 3.35), (115.542, 7.55), (115.546, 7.94), (115.567, 7.38), (115.595, 8.82),
     (115.608, 8.96), (115.62, 8.82), (115.594, 5.45), (115.574, 3.35), (115.56, 0.13)],
]
a3_dash = [
    [(114.954, 8.67), (114.954, 6.15), (114.968, 4.05), (114.934, 0.9)],
    [(115.01, 0.55), (115.044, 3.0), (115.07, 4.47), (115.125, 4.05), (115.166, 4.54), (115.207, 5.8), (115.194, 7.2),
     (115.154, 7.97), (115.07, 8.82), (115.0, 9.52), (114.98, 9.38)],
    [(115.36, 9.59), (115.305, 8.6), (115.347, 7.76), (115.36, 6.15), (115.374, 5.28), (115.395, 5.87), (115.41, 6.05),
     (115.47, 4.96), (115.526, 4.05), (115.505, 1.95), (115.443, 0.13)],
    [(115.374, 9.73), (115.41, 9.73), (115.436, 9.1), (115.443, 9.95)],
    [(115.56, 0.13), (115.62, 2.65), (115.65, 4.19), (115.705, 5.17), (115.72, 6.43), (115.77, 6.85), (115.84, 7.69),
     (115.88, 8.75), (115.86, 9.38), (115.81, 9.17), (115.77, 9.73)],
    [(115.84, 9.95), (115.88, 9.55), (115.89, 9.95)],
]
b1_solid = []
b1_dash = [
    [(115.736, 2.6), (115.743, 3.5), (115.743, 5.6), (115.755, 7.57), (115.77, 7.95), (115.8, 7.92), (115.817, 7.36),
     (115.813, 6.73), (115.794, 5.75), (115.768, 4.2), (115.75, 3.57)],
    [(115.832, 4.98), (115.858, 5.6), (115.877, 6.03), (115.9, 5.96), (115.9, 4.9), (115.915, 4.73), (115.96, 5.19),
     (116.01, 5.78), (116.05, 5.75), (116.087, 6.55), (116.12, 6.27), (116.164, 6.8), (116.2, 7.15), (116.234, 8.06),
     (116.215, 8.55), (116.164, 8.9), (116.13, 8.9), (116.113, 9.74), (116.1, 9.9)],
    [(115.832, 4.98), (115.838, 6.3), (115.85, 7.2), (115.877, 7.5), (115.89, 7.36), (115.91, 6.76), (115.928, 7.7),
     (115.9, 8.55), (115.92, 9.9)],
    [(116.05, 9.9), (116.06, 9.7), (116.085, 9.88)],
]
b2_solid = [
    [(115.69, 8.66), (115.7, 6.8), (115.72, 6.56), (115.75, 7.0), (115.77, 8.56), (115.76, 8.66)],
    [(115.99, 7.85), (116.02, 7.2), (115.985, 6.42), (115.98, 7.13), (115.99, 7.85)],
    [(115.68, 2.6), (115.69, 1.98), (115.68, 1.1), (115.64, 0.46), (115.625, 0.56), (115.583, 1.04), (115.6, 1.44),
     (115.65, 2.39), (115.68, 2.6)],
    [(116.566, 7.74), (116.566, 7.4)],
]
b2_dash = [
    [(115.64, 8.66), (115.67, 7.8), (115.672, 5.44), (115.666, 3.4), (115.634, 2.53), (115.59, 1.24), (115.6, 0.16)],
    [(115.685, 0.16), (115.7, 0.83), (115.743, 3.4), (115.768, 4.9), (115.806, 6.66), (115.813, 7.95), (115.84, 8.56)],
    [(115.89, 0.16), (115.928, 2.73), (115.9, 4.29), (115.93, 5.78), (115.953, 7.13), (115.972, 8.49), (115.99, 9.3)],
    [(116.04, 1.88), (116.0, 2.19), (115.985, 3.0), (115.947, 1.38)],
    [(116.06, 1.78), (116.1, 2.73), (116.12, 3.75), (116.15, 3.95), (116.2, 4.15), (116.25, 5.17), (116.29, 5.98),
     (116.317, 6.46), (116.317, 7.88), (116.29, 8.03), (116.24, 7.95), (116.164, 8.73), (116.113, 8.62), (116.087, 9.03),
     (116.15, 9.37), (116.215, 9.7), (116.23, 9.9)],
    [(115.99, 9.33), (116.04, 9.17), (116.01, 9.07)],
    [(116.02, 4.49), (116.07, 5.24), (116.08, 5.85), (116.07, 6.52), (116.06, 5.78), (116.02, 4.76)],
    [(116.017, 3.75), (116.03, 3.4), (116.02, 3.55)],
]
b3_solid = [
    [(116.113, 8.96), (116.15, 8.85), (116.164, 8.4), (116.12, 7.69), (116.08, 8.11), (116.065, 8.6), (116.075, 8.89),
     (116.113, 8.96)],
    [(116.07, 0.13), (116.1, 1.53), (116.107, 0.13)],
]
b3_dash = [
    [(115.972, 0.13), (116.02, 2.65), (116.06, 4.4), (116.08, 5.45), (116.06, 6.85), (116.01, 8.25), (116.01, 8.75),
     (116.036, 9.87)],
    [(116.113, 0.13), (116.17, 2.65), (116.18, 3.49), (116.215, 4.0), (116.304, 4.15), (116.38, 4.37), (116.42, 4.89),
     (116.445, 5.8), (116.458, 7.55), (116.432, 7.97), (116.4, 7.2), (116.394, 6.54), (116.445, 6.36), (116.483, 6.36),
     (116.52, 7.2), (116.58, 7.66), (116.585, 7.41), (116.535, 6.71), (116.553, 5.45), (116.58, 5.03), (116.65, 5.8),
     (116.713, 6.5), (116.72, 7.41), (116.675, 8.18), (116.643, 8.25), (116.65, 8.82), (116.643, 9.03), (116.617, 9.45),
     (116.605, 9.94)],
]

# --- big curved arrows: start, end, curvature, colour ---
a1_arrows = [((115.05, 4.9), (115.62, 0.22), 0.3, 'black')]
a2_arrows = [((115.257, 4.76), (115.72, 0.26), 0.3, 'black')]
a3_arrows = [((115.60, 6.92), (115.90, 0.2), 0.3, 'black')]
b1_arrows = [((115.72, 3.9), (115.77, 0.88), 0.1, 'black'), ((116.19, 0.53), (115.91, 3.7), -0.2, 'red')]
b2_arrows = [((116.49, 0.53), (116.107, 3.78), -0.2, 'red')]
b3_arrows = [((116.83, 0.48), (116.36, 3.77), -0.2, 'red')]

W, H = 3295, 1955
fig = plt.figure(figsize=(W / 300, H / 300), dpi=300)

cmap = ListedColormap(sns.color_palette(cape_colors), name='cape')
cmap.set_under('white')
cmap.set_over('#8F1A1A')
norm = BoundaryNorm(cape_levels, cmap.N)


def make_ax(x0, x1, y0, y1):
    return fig.add_axes([x0 / W, 1 - y1 / H, (x1 - x0) / W, (y1 - y0) / H])


def draw_line(ax, pts, **kw):
    lon, hgt = zip(*pts)
    sns.lineplot(x=list(lon), y=list(hgt), sort=False, estimator=None, legend=False, ax=ax, **kw)


def draw_panel(ax, lon0, title, cape, u, w, blue_lon, blue_hgt, solid, dash, arrows, terrain=False):
    cape_lon = lon0 + 0.1 * np.arange(20)
    wind_lon = lon0 + 0.1 * np.arange(np.shape(u)[1])
    cf = ax.contourf(cape_lon, cape_hgt, np.array(cape) * 100.0, levels=cape_levels, cmap=cmap, norm=norm,
                     extend='both', zorder=1)
    sns.lineplot(x=blue_lon, y=blue_hgt, sort=False, estimator=None, legend=False, ax=ax,
                 color='#1010E8', lw=1.4, zorder=2)
    if terrain:
        ax.fill_between(terrain_lon, 0, terrain_hgt, color='#808080', lw=0, zorder=3)
        sns.lineplot(x=terrain_lon, y=terrain_hgt, sort=False, estimator=None, legend=False, ax=ax,
                     color='white', lw=0.6, zorder=3)
    for pts in solid:
        draw_line(ax, pts, color='#0B7A0B', lw=0.9, zorder=4)
    for pts in dash:
        draw_line(ax, pts, color='#0B7A0B', lw=1.0, linestyle=(0, (5, 2)), zorder=4)
    lon2, hgt2 = np.meshgrid(wind_lon, wind_hgt)
    uu = np.ma.masked_where((np.array(u) == 0) & (np.array(w) == 0), np.array(u) * 0.01)
    ww = np.ma.masked_where((np.array(u) == 0) & (np.array(w) == 0), np.array(w) * 0.1)
    # flat-backed heads so the short vectors stay solid triangles
    ax.quiver(lon2, hgt2, uu, ww, angles='xy', scale_units='xy', scale=1, pivot='tail', units='dots', width=5,
              headwidth=4.4, headlength=5, headaxislength=5, minshaft=1, minlength=0, color='black', zorder=5)
    for start, end, rad, col in arrows:
        ax.annotate('', xy=end, xytext=start, zorder=6,
                    arrowprops=dict(arrowstyle='-|>,head_length=0.7,head_width=0.25',
                                    connectionstyle=f'arc3,rad={rad}', color=col, alpha=0.6, lw=1.6,
                                    mutation_scale=12, shrinkA=0, shrinkB=0))
    ax.text(0.004, 0.985, title, transform=ax.transAxes, fontsize=13.8, fontweight='bold', va='top', ha='left',
            zorder=7, bbox=dict(facecolor='white', edgecolor='none', pad=1.5))
    ax.set_xlim(lon0, lon0 + 1.9)
    ax.set_ylim(0, 10)
    ax.set_yticks([1, 3, 5, 7, 9])
    ax.tick_params(axis='y', length=6, width=1.2, pad=2, labelsize=11)
    ax.set_xticks([])
    for side in ax.spines:
        ax.spines[side].set_linewidth(0.8)
        ax.spines[side].set_zorder(8)
    ax.spines['top'].set_linewidth(1.4)
    ax.spines['bottom'].set_linewidth(1.6)
    for lab in ax.get_yticklabels():
        lab.set_fontweight('bold')
    return cf


xa = (192, 1705)
xb = (1751, 3265)
ys = [(30, 574), (591, 1136), (1152, 1696)]

ax_a1 = make_ax(*xa, *ys[0])
ax_a2 = make_ax(*xa, *ys[1])
ax_a3 = make_ax(*xa, *ys[2])
ax_b1 = make_ax(*xb, *ys[0])
ax_b2 = make_ax(*xb, *ys[1])
ax_b3 = make_ax(*xb, *ys[2])

cf = draw_panel(ax_a1, 114.5, '(a1) 19:30 LST', a1_cape, a1_u, a1_w, a1_blue_lon, a1_blue_hgt, a1_solid, a1_dash, a1_arrows, True)
draw_panel(ax_a2, 114.5, '(a2) 20:00 LST', a2_cape, a2_u, a2_w, a2_blue_lon, a2_blue_hgt, a2_solid, a2_dash, a2_arrows, True)
draw_panel(ax_a3, 114.5, '(a3) 20:40 LST', a3_cape, a3_u, a3_w, a3_blue_lon, a3_blue_hgt, a3_solid, a3_dash, a3_arrows, True)
draw_panel(ax_b1, 115.5, '(b1) 21:20 LST', b1_cape, b1_u, b1_w, b1_blue_lon, b1_blue_hgt, b1_solid, b1_dash, b1_arrows)
draw_panel(ax_b2, 115.5, '(b2) 22:10 LST', b2_cape, b2_u, b2_w, b2_blue_lon, b2_blue_hgt, b2_solid, b2_dash, b2_arrows)
draw_panel(ax_b3, 115.5, '(b3) 23:00 LST', b3_cape, b3_u, b3_w, b3_blue_lon, b3_blue_hgt, b3_solid, b3_dash, b3_arrows)

# cross-section markers in a1
ax_a1.vlines(115.622, 0, 9.8, color='#3A3AF0', lw=1.0, linestyles=(0, (6, 2)), zorder=6)
ax_a1.vlines(115.698, 0, 9.8, color='#A030A0', lw=1.0, linestyles=(0, (6, 2)), zorder=6)

for ax in [ax_a1, ax_a2, ax_a3]:
    ax.set_ylabel('Height (km AGL)', fontsize=13, fontweight='bold', labelpad=4)
for ax in [ax_b1, ax_b2, ax_b3]:
    ax.set_yticklabels([])

for ax, lon0, labels in [(ax_a3, 114.5, ['114.5°E', '115°E', '115.5°E', '116°E']),
                         (ax_b3, 115.5, ['115.5°E', '116°E', '116.5°E', '117°E'])]:
    ax.set_xticks(lon0 + 0.5 * np.arange(4))
    ax.set_xticklabels(labels, fontsize=9.5, fontweight='bold')
    ax.set_xticks(lon0 + 0.1 * np.arange(20), minor=True)
    ax.tick_params(axis='x', which='major', bottom=True, length=6.5, width=0.8, pad=2, color='black')
    ax.tick_params(axis='x', which='minor', bottom=True, length=3.5, width=0.6, color='black')

# extensions are drawn inside the axes box, so the box runs tip to tip
cax = make_ax(332, 3105, 1802, 1845)
cb = fig.colorbar(cf, cax=cax, orientation='horizontal', extend='both', extendfrac=0.049, ticks=cape_levels,
                  spacing='proportional')
cb.outline.set_linewidth(1.2)
cb.ax.tick_params(length=4, width=0.6, labelsize=11, pad=5, color='black')
fig.text(3108 / W, 1 - 1822 / H, 'J kg$^{-1}$', fontsize=12.5, va='center', ha='left')

fig.savefig('out.png', dpi=300, facecolor='white')
